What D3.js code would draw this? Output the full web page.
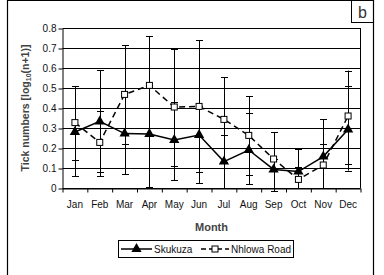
<!DOCTYPE html>
<html>
<head>
<meta charset="utf-8">
<script src="https://cdn.jsdelivr.net/npm/d3@7"></script>
<style>
  body { margin: 0; background: #fff; }
  svg { display: block; font-family: "Liberation Sans", Arial, sans-serif; }
</style>
</head>
<body>
<div id="chart"></div>
<script>
var months = ["Jan", "Feb", "Mar", "Apr", "May", "Jun", "Jul", "Aug", "Sep", "Oct", "Nov", "Dec"];
var yTicks = [0, 0.1, 0.2, 0.3, 0.4, 0.5, 0.6, 0.7, 0.8];

// Skukuza
var skukuza   = [0.28, 0.333, 0.272, 0.27, 0.24, 0.265, 0.132, 0.19, 0.093, 0.082, 0.157, 0.293];
var skukuzaLo = [0.058, 0.06, 0.07, 0.005, 0.038, 0.025, 0, 0.02, 0.093, 0, 0, 0.087];
var skukuzaHi = [0.51, 0.59, 0.272, 0.513, 0.428, 0.408, 0.265, 0.373, 0.145, 0.195, 0.345, 0.512];

// Nhlowa Road
var nhlowa   = [0.327, 0.228, 0.468, 0.513, 0.405, 0.408, 0.343, 0.263, 0.145, 0.043, 0.115, 0.36];
var nhlowaLo = [0.138, 0.08, 0.218, 0.27, 0.112, 0.08, 0.132, 0.063, -0.015, 0, 0, 0.12];
var nhlowaHi = [0.51, 0.385, 0.713, 0.76, 0.693, 0.738, 0.553, 0.46, 0.278, 0.107, 0.218, 0.587];

var W = 384, H = 275;
var plotLeft = 62.5, plotRight = 360.5, plotTop = 28, plotBottom = 188;

var svg = d3.select("#chart").append("svg")
    .attr("width", W)
    .attr("height", H);

// figure frame and panel letter
svg.append("path")
    .attr("d", "M7.5,276V0.5H373.5V276")
    .attr("fill", "none")
    .attr("stroke", "#000")
    .attr("stroke-width", 1.2);
svg.append("rect")
    .attr("x", 351.5).attr("y", 0.5)
    .attr("width", 22).attr("height", 22)
    .attr("fill", "none").attr("stroke", "#000");
svg.append("text")
    .attr("x", 362.5).attr("y", 18)
    .attr("text-anchor", "middle")
    .attr("font-size", "16px")
    .attr("fill", "#333")
    .text("b");

var x = d3.scaleBand().domain(months).range([plotLeft, plotRight]);
var xEdge = d3.scaleLinear().domain([0, 12]).range([plotLeft, plotRight]);
var y = d3.scaleLinear().domain([0, 0.8]).range([plotBottom, plotTop]);
var cx = function(i) { return x(months[i]) + x.bandwidth() / 2; };

// gridlines
svg.append("g")
    .selectAll("line")
    .data(yTicks)
    .join("line")
    .attr("x1", plotLeft).attr("x2", plotRight)
    .attr("y1", d => Math.round(y(d)) + 0.5)
    .attr("y2", d => Math.round(y(d)) + 0.5)
    .attr("stroke", "#000");

svg.append("line")
    .attr("x1", plotRight).attr("x2", plotRight)
    .attr("y1", plotTop).attr("y2", plotBottom)
    .attr("stroke", "#000");

// y axis
var yAxis = svg.append("g")
    .attr("transform", "translate(" + plotLeft + ",0.5)")
    .call(d3.axisLeft(y).tickValues(yTicks).tickSize(4).tickSizeOuter(0)
        .tickFormat(d => d === 0 ? "0" : d.toFixed(1)));
yAxis.selectAll("text")
    .attr("font-size", "10px")
    .attr("font-family", "Liberation Sans, Arial, sans-serif")
    .attr("fill", "#111")
    .attr("x", -6);

// x axis: ticks at band edges, labels at centres
svg.append("g")
    .attr("transform", "translate(0," + (plotBottom + 0.5) + ")")
    .call(d3.axisBottom(xEdge).tickValues(d3.range(13)).tickSize(4).tickSizeOuter(0).tickFormat(""));
var xAxis = svg.append("g")
    .attr("transform", "translate(0," + (plotBottom + 0.5) + ")")
    .call(d3.axisBottom(x).tickSize(0).tickPadding(12));
xAxis.select(".domain").remove();
xAxis.selectAll("text")
    .attr("font-size", "10px")
    .attr("font-family", "Liberation Sans, Arial, sans-serif")
    .attr("fill", "#111");

svg.selectAll(".domain").attr("stroke", "#000");
svg.selectAll(".tick line").attr("stroke", "#000");

// axis titles
svg.append("text")
    .attr("x", (plotLeft + plotRight) / 2)
    .attr("y", 231)
    .attr("text-anchor", "middle")
    .attr("font-size", "11px")
    .attr("font-weight", "bold")
    .attr("fill", "#444")
    .text("Month");

var yt = svg.append("text")
    .attr("transform", "translate(29," + (plotTop + plotBottom) / 2 + ") rotate(-90)")
    .attr("text-anchor", "middle")
    .attr("font-size", "10.5px")
    .attr("font-weight", "bold")
    .attr("fill", "#444");
yt.append("tspan").text("Tick numbers [log");
yt.append("tspan").attr("font-size", "7px").attr("baseline-shift", "-25%").text("10");
yt.append("tspan").text("(n+1)]");

// error bars
function errorBars(lo, hi) {
    var g = svg.append("g").attr("stroke", "#000").attr("stroke-width", 1);
    months.forEach(function(m, i) {
        var xc = Math.round(cx(i)) + 0.5;
        g.append("line")
            .attr("x1", xc).attr("x2", xc)
            .attr("y1", y(lo[i])).attr("y2", y(hi[i]));
        [lo[i], hi[i]].forEach(function(v) {
            g.append("line")
                .attr("x1", xc - 3.5).attr("x2", xc + 3.5)
                .attr("y1", Math.round(y(v)) + 0.5).attr("y2", Math.round(y(v)) + 0.5);
        });
    });
}
errorBars(skukuzaLo, skukuzaHi);
errorBars(nhlowaLo, nhlowaHi);

var line = d3.line()
    .x((d, i) => cx(i))
    .y(d => y(d));

svg.append("path")
    .datum(nhlowa)
    .attr("fill", "none")
    .attr("stroke", "#000")
    .attr("stroke-width", 1.5)
    .attr("stroke-dasharray", "6,4")
    .attr("d", line);

svg.append("path")
    .datum(skukuza)
    .attr("fill", "none")
    .attr("stroke", "#000")
    .attr("stroke-width", 1.5)
    .attr("d", line);

var tri = d3.symbol().type(d3.symbolTriangle).size(46);

svg.append("g")
    .selectAll("rect")
    .data(nhlowa)
    .join("rect")
    .attr("x", (d, i) => cx(i) - 3)
    .attr("y", d => y(d) - 3)
    .attr("width", 6).attr("height", 6)
    .attr("fill", "#fff")
    .attr("stroke", "#000");

svg.append("g")
    .selectAll("path")
    .data(skukuza)
    .join("path")
    .attr("transform", (d, i) => "translate(" + cx(i) + "," + y(d) + ")")
    .attr("d", tri)
    .attr("fill", "#000");

// legend
var lg = svg.append("g");
lg.append("rect")
    .attr("x", 118.5).attr("y", 240.5)
    .attr("width", 175).attr("height", 17)
    .attr("fill", "#fff").attr("stroke", "#000");
lg.append("line")
    .attr("x1", 121).attr("x2", 152).attr("y1", 249).attr("y2", 249)
    .attr("stroke", "#000").attr("stroke-width", 1.5);
lg.append("path")
    .attr("transform", "translate(136.5,249)")
    .attr("d", tri)
    .attr("fill", "#000");
lg.append("text")
    .attr("x", 154).attr("y", 252.5)
    .attr("font-size", "10px").attr("fill", "#111")
    .text("Skukuza");
lg.append("line")
    .attr("x1", 201).attr("x2", 229).attr("y1", 249).attr("y2", 249)
    .attr("stroke", "#000").attr("stroke-width", 1.5)
    .attr("stroke-dasharray", "5,3");
lg.append("rect")
    .attr("x", 212).attr("y", 246)
    .attr("width", 6).attr("height", 6)
    .attr("fill", "#fff").attr("stroke", "#000");
lg.append("text")
    .attr("x", 231).attr("y", 252.5)
    .attr("font-size", "10px").attr("fill", "#111")
    .text("Nhlowa Road");
</script>
</body>
</html>
